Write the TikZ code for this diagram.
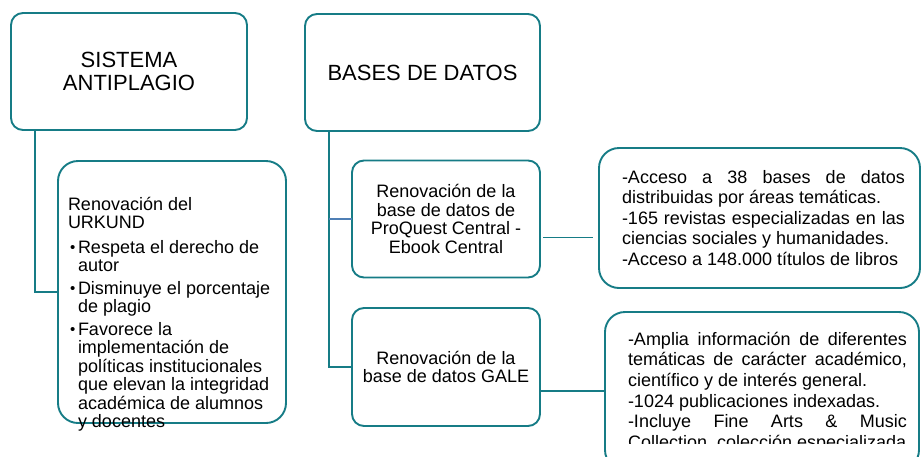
\documentclass[tikz,border=0pt]{standalone}
\usepackage{fontspec}
\setmainfont{Liberation Sans}
\usetikzlibrary{calc}
\definecolor{teal1}{HTML}{167C86}
\definecolor{blue1}{HTML}{4F7FB5}
\newcommand{\mybul}{\hspace*{2pt}\makebox[8pt][l]{\raisebox{0.3pt}{\fontsize{15}{15}\selectfont\textbullet}}}
\begin{document}
\begin{tikzpicture}[x=1pt,y=-1pt,
  box/.style={draw=teal1,line width=1.9pt,rounded corners=12pt,inner sep=0pt,outer sep=0pt,align=center,fill=white},
  bigbox/.style={box,rounded corners=20pt},
  conn/.style={draw=teal1,line width=1.8pt},
  thin/.style={draw=teal1,line width=1.4pt},
  titlef/.style={font=\fontsize{22}{23}\selectfont},
  bodyf/.style={font=\fontsize{18}{18.7}\selectfont},
  txt/.style={inner sep=0pt,outer sep=0pt,anchor=base west}]
\useasboundingbox (0,0) rectangle (922,456);
\clip (0,0) rectangle (922,456);
% top boxes
\node[box,titlef,minimum width=236pt,minimum height=117pt] (sis) at (129,71.5) {SISTEMA\\ANTIPLAGIO};
\node[box,titlef,minimum width=235pt,minimum height=117pt] (bd) at (422.5,72.5) {BASES DE DATOS};
% URKUND box
\node[bigbox,minimum width=228pt,minimum height=262pt] (urk) at (172,292) {};
\node[txt] (urktxt) at (68,210) {\parbox[t]{215pt}{\fontsize{18}{18.5}\selectfont
Renovación del\\URKUND\par\vspace{6pt}
\hangindent=10pt\hangafter=1\mybul Respeta el derecho de\\autor\par\vspace{4pt}
\hangindent=10pt\hangafter=1\mybul Disminuye el porcentaje\\de plagio\par\vspace{4pt}
\hangindent=10pt\hangafter=1\mybul Favorece la\\implementación de\\políticas institucionales\\que elevan la integridad\\académica de alumnos\\y docentes}};
% database boxes
\node[box,bodyf,minimum width=188pt,minimum height=117pt] (pq) at (446,219) {Renovación de la\\base de datos de\\ProQuest Central -\\Ebook Central};
\node[box,bodyf,minimum width=188pt,minimum height=118pt] (gale) at (446,367) {Renovación de la\\base de datos GALE};
% right boxes
\node[bigbox,minimum width=321pt,minimum height=140pt] (rb1) at (759.5,218) {};
\node[txt] (rb1txt) at (622,183) {\parbox[t]{283pt}{\fontsize{18}{20.5}\selectfont\tolerance=10000
-Acceso a 38 bases de datos\linebreak distribuidas por áreas temáticas.\par
-165 revistas especializadas en las\linebreak ciencias sociales y humanidades.\par
-Acceso a 148.000 títulos de libros}};
\node[bigbox,minimum width=314pt,minimum height=158pt] (rb2) at (762,391) {};
\begin{scope}
\clip (600,300) rectangle (922,443);
\node[txt] (rb2txt) at (628,345) {\parbox[t]{279pt}{\fontsize{18}{20.7}\selectfont\tolerance=10000
-Amplia información de diferentes\linebreak temáticas de carácter académico,\linebreak científico y de interés general.\par
-1024 publicaciones indexadas.\par
-Incluye Fine Arts \& Music\linebreak Collection, colección especializada}};
\end{scope}
% connectors
\coordinate (sisl) at ([xshift=24pt]sis.south west);
\coordinate (bdl) at ([xshift=24pt]bd.south west);
\draw[conn] (sisl) |- (urk.west);
\draw[conn] (bdl) |- (gale.west);
\draw[draw=blue1,line width=1.8pt] (bdl |- pq.west) -- (pq.west);
\coordinate (pqc) at ([yshift=-18.5pt]pq.east);
\draw[thin] ($(pqc)+(3,0)$) -- ($(pqc -| rb1.west)+(-6,0)$);
\draw[thin] (gale.east |- rb2.west) -- (rb2.west);
\end{tikzpicture}
\end{document}
